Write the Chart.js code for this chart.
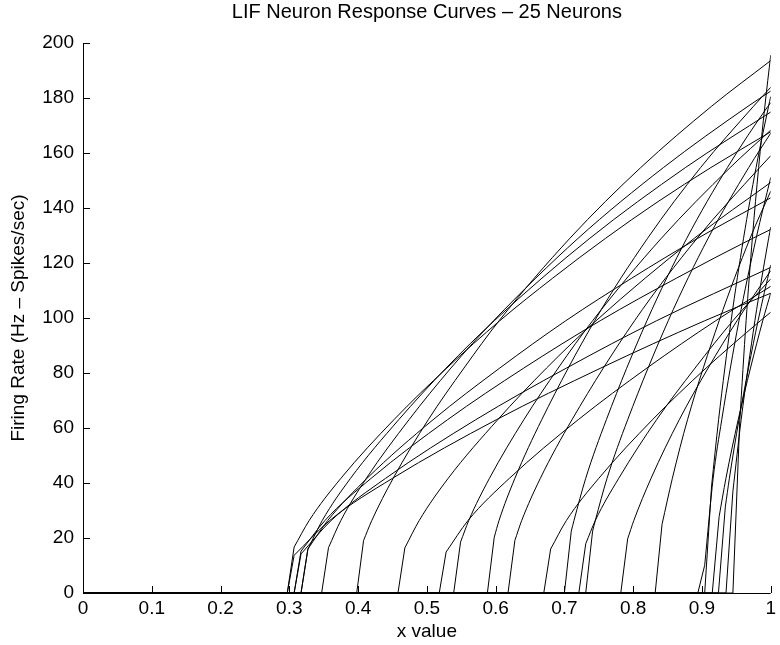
<!DOCTYPE html>
<html>
<head>
<meta charset="utf-8">
<title>LIF Neuron Response Curves</title>
<script src="https://cdn.jsdelivr.net/npm/chart.js@4.4.1/dist/chart.umd.min.js"></script>
<style>
  html, body { margin: 0; padding: 0; background: #fff; }
  #wrap { width: 780px; height: 645px; }
</style>
</head>
<body>
<div id="wrap"><canvas id="lifChart" width="780" height="645"></canvas></div>
<script>
// tick labels
const xTickLabels = ["0", "0.1", "0.2", "0.3", "0.4", "0.5", "0.6", "0.7", "0.8", "0.9", "1"]
const yTickLabels = ["0", "20", "40", "60", "80", "100", "120", "140", "160", "180", "200"]

// input values (x) for each neuron curve
const neuronX = [
  [0, .297, .307, .329, .375, .452, .529, .606, .683, .76, .836, .913, 1],
  [0, .297, .307, .359, .45, .601, .753, .904, 1],
  [0, .307, .317, .352, .419, .53, .641, .752, .863, .974, 1],
  [0, .317, .327, .348, .389, .459, .528, .598, .737, .876, 1],
  [0, .317, .327, .356, .413, .509, .606, .702, .798, .894, 1],
  [0, .307, .317, .361, .44, .571, .703, .834, 1],
  [0, .347, .357, .375, .412, .474, .535, .597, .72, .844, .967, 1],
  [0, .398, .408, .42, .451, .502, .554, .605, .708, .811, .914, 1],
  [0, .458, .468, .489, .531, .603, .674, .746, .889, 1],
  [0, .518, .528, .56, .62, .72, .82, .92, 1],
  [0, .539, .549, .561, .591, .641, .691, .741, .841, .941, 1],
  [0, .588, .598, .605, .628, .667, .744, .821, .898, .975, 1],
  [0, .618, .628, .638, .665, .711, .802, .893, .984, 1],
  [0, .67, .68, .703, .75, .828, .906, .985, 1],
  [0, .7, .71, .714, .731, .761, .82, .878, .937, .996, 1],
  [0, .721, .731, .745, .779, .834, .89, .945, 1],
  [0, .731, .741, .745, .762, .792, .851, .909, .968, 1],
  [0, .782, .792, .801, .826, .867, .909, .951, 1],
  [0, .832, .842, .857, .879, .925, .97, 1],
  [0, .894, .904, .9163, .9288, .9538, .9788, 1],
  [0, .904, .914, .9242, .9424, .9605, .9787, .9969, 1],
  [0, .915, .925, .9349, .9527, .9706, .9884, 1],
  [0, .924, .934, .9399, .9538, .9677, .9816, 1],
  [0, .935, .945, .957, .977, .997, 1],
  [0, .945, .955, .9642, .9733, .9824, .9915, 1]
]

// firing rates (Hz) matching neuronX
const neuronRate = [
  [0, 0, 16.7, 26.4, 41.7, 63, 81.8, 99, 114.5, 129, 142.3, 154.7, 167.7],
  [0, 0, 13.7, 26.4, 41.7, 63, 81.8, 99, 109],
  [0, 0, 15.2, 26.4, 41.7, 63, 81.8, 99, 114.5, 129, 132.2],
  [0, 0, 15.9, 26.4, 41.7, 63, 81.8, 99, 129, 154.7, 174.9],
  [0, 0, 16, 26.4, 41.7, 63, 81.8, 99, 114.5, 129, 143.7],
  [0, 0, 14.2, 26.4, 41.7, 63, 81.8, 99, 118.4],
  [0, 0, 16.5, 26.4, 41.7, 63, 81.8, 99, 129, 154.7, 177, 182.5],
  [0, 0, 19.1, 26.4, 41.7, 63, 81.8, 99, 129, 154.7, 177, 193.6],
  [0, 0, 16.4, 26.4, 41.7, 63, 81.8, 99, 129, 149.3],
  [0, 0, 14.9, 26.4, 41.7, 63, 81.8, 99, 111.5],
  [0, 0, 18.5, 26.4, 41.7, 63, 81.8, 99, 129, 154.7, 168.3],
  [0, 0, 20.3, 26.4, 41.7, 63, 99, 129, 154.7, 177, 183.9],
  [0, 0, 19.1, 26.4, 41.7, 63, 99, 129, 154.7, 159],
  [0, 0, 16, 26.4, 41.7, 63, 81.8, 99, 102.1],
  [0, 0, 22.5, 26.4, 41.7, 63, 99, 129, 154.7, 177, 178.3],
  [0, 0, 17.9, 26.4, 41.7, 63, 81.8, 99, 114.2],
  [0, 0, 22.5, 26.4, 41.7, 63, 99, 129, 154.7, 167.2],
  [0, 0, 19.7, 26.4, 41.7, 63, 81.8, 99, 117.2],
  [0, 0, 25, 41.7, 63, 99, 129, 146.1],
  [0, 0, 10.1, 41.7, 63, 99, 129, 151.1],
  [0, 0, 38.9, 63, 99, 129, 154.7, 177, 180.5],
  [0, 0, 27.8, 41.7, 63, 81.8, 99, 109.1],
  [0, 0, 31.3, 41.7, 63, 81.8, 99, 119.3],
  [0, 0, 37, 63, 99, 129, 133.1],
  [0, 0, 62.7, 99, 129, 154.7, 177, 195.6]
]

const FONT = '"Liberation Sans", Arial, Helvetica, sans-serif'
Chart.defaults.font.family = FONT
Chart.defaults.color = "#000"

// MATLAB style: axis lines + ticks pointing into the plot, drawn over the curves
const inwardAxes = {
  id: "inwardAxes",
  afterDatasetsDraw(chart) {
    const { ctx, chartArea, scales } = chart
    const x = scales.x
    const y = scales.y
    ctx.save()
    ctx.strokeStyle = "#000"
    ctx.lineWidth = 1
    ctx.beginPath()
    ctx.moveTo(chartArea.left + 0.5, chartArea.top)
    ctx.lineTo(chartArea.left + 0.5, chartArea.bottom + 0.5)
    ctx.lineTo(chartArea.right, chartArea.bottom + 0.5)
    x.ticks.forEach((t) => {
      const px = Math.round(x.getPixelForValue(t.value)) + 0.5
      ctx.moveTo(px, chartArea.bottom)
      ctx.lineTo(px, chartArea.bottom - 7)
    })
    y.ticks.forEach((t) => {
      const py = Math.round(y.getPixelForValue(t.value)) + 0.5
      ctx.moveTo(chartArea.left, py)
      ctx.lineTo(chartArea.left + 7, py)
    })
    ctx.stroke()
    ctx.restore()
  },
}

const lineStyle = {
  borderColor: "#000",
  borderWidth: 1,
  pointRadius: 0,
  fill: false,
}

// each neuron: the silent part and the jump to the first sample are straight,
// the rest of the response is smoothed
const datasets = []
neuronX.forEach((xs, i) => {
  const pts = xs.map((v, j) => ({ x: v, y: neuronRate[i][j] }))
  datasets.push({ ...lineStyle, label: "Neuron " + (i + 1) + " onset", data: pts.slice(0, 3), tension: 0 })
  datasets.push({ ...lineStyle, label: "Neuron " + (i + 1), data: pts.slice(2), cubicInterpolationMode: "monotone" })
})

const ctx = document.getElementById("lifChart").getContext("2d")
new Chart(ctx, {
  type: "line",
  data: { datasets },
  options: {
    responsive: false,
    animation: false,
    layout: { padding: { left: 0, right: 6, top: 0, bottom: 0 } },
    plugins: {
      legend: { display: false },
      tooltip: { enabled: false },
      title: {
        display: true,
        fullSize: false,
        text: "LIF Neuron Response Curves \u2013 25 Neurons",
        color: "#000",
        font: { size: 20, weight: "normal" },
        padding: { top: 0, bottom: 19 },
      },
    },
    scales: {
      x: {
        type: "linear",
        min: 0,
        max: 1,
        afterFit: (s) => { s.height = 52 },
        grid: { display: false, drawTicks: false },
        border: { display: false },
        ticks: {
          stepSize: 0.1,
          autoSkip: false,
          maxRotation: 0,
          padding: 4,
          color: "#000",
          font: { size: 19 },
          callback: (v, i) => xTickLabels[i],
        },
        title: {
          display: true,
          text: "x value",
          color: "#000",
          font: { size: 19 },
          padding: { top: 0, bottom: 2 },
        },
      },
      y: {
        min: 0,
        max: 200,
        afterFit: (s) => { s.width = 83 },
        grid: { display: false, drawTicks: false },
        border: { display: false },
        ticks: {
          stepSize: 20,
          autoSkip: false,
          padding: 9,
          color: "#000",
          font: { size: 19 },
          callback: (v, i) => yTickLabels[i],
        },
        title: {
          display: true,
          text: "Firing Rate (Hz \u2013 Spikes/sec)",
          color: "#000",
          font: { size: 19 },
          padding: { top: 7, bottom: 0 },
        },
      },
    },
  },
  plugins: [inwardAxes],
})
</script>
</body>
</html>
